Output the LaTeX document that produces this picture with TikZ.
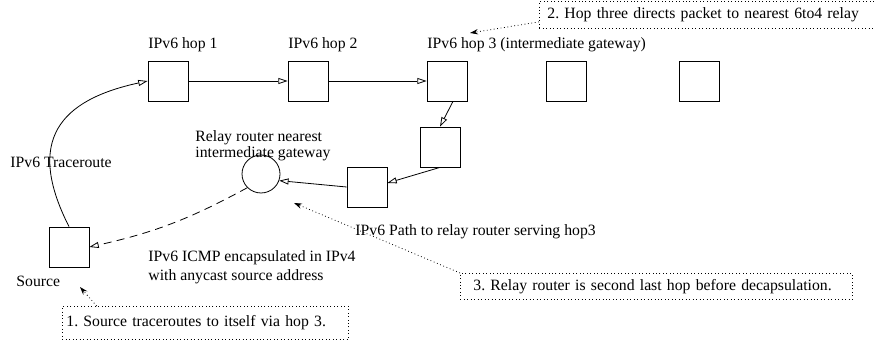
\documentclass[tikz,border=0pt]{standalone}
\usepackage{fontspec}
\setmainfont{Liberation Serif}
\usetikzlibrary{arrows.meta}
\frenchspacing
\begin{document}
\begin{tikzpicture}[x=0.75pt,y=-0.75pt,
  font=\fontsize{11.8}{13}\selectfont\frenchspacing,
  line width=0.6pt,
  hopbox/.style={draw, minimum width=30pt, minimum height=30pt, inner sep=0pt},
  relay/.style={draw, circle, minimum size=28.5pt, inner sep=0pt},
  lbl/.style={anchor=base west, inner sep=0pt},
  note/.style={draw, dotted, anchor=north west, inner ysep=0pt, align=left},
  flow/.style={-{Triangle[open,length=7pt,width=4.5pt]}},
  callout/.style={dotted, -{Stealth[length=6pt,width=4pt]}}]
\useasboundingbox (0,0) rectangle (874,341);
\clip (0,0) rectangle (874,341);

% hop boxes
\node[hopbox] (h1) at (168,81) {};
\node[hopbox] (h2) at (308,81) {};
\node[hopbox] (h3) at (447,81) {};
\node[hopbox] (h4) at (566,81) {};
\node[hopbox] (h5) at (699,81) {};
\node[hopbox] (p1) at (440,147) {};
\node[hopbox] (p2) at (367,187) {};
\node[hopbox] (src) at (69,247) {};
\node[relay] (rr) at (261,174) {};

% labels
\node[lbl] (t1) at (148,49) {IPv6 hop 1};
\node[lbl] (t2) at (288,49) {IPv6 hop 2};
\node[lbl] (t3) at (427,49) {IPv6 hop 3 (intermediate gateway)};
\node[lbl] (trl) at (10,168) {IPv6 Traceroute};
\node[lbl] (srcl) at (16,287) {Source};
\node[anchor=north west, inner sep=0pt, align=left,
      font=\fontsize{11.8}{9.75}\selectfont] (rrl) at (195,130.5)
  {Relay router nearest\\intermediate gateway};
\node[lbl] (icmp1) at (148,262) {IPv6 ICMP encapsulated in IPv4};
\node[lbl] (icmp2) at (148,280.5) {with anycast source address};
\node[lbl] (pathl) at (355,235.5) {IPv6 Path to relay router serving hop3};

% notes
\node[note, inner xsep=3pt, text width=208.5pt, minimum height=24.75pt] (n1) at (62,306) {1. Source traceroutes to itself via hop 3.};
\node[note, inner xsep=6pt, text width=243.75pt, minimum height=20.25pt] (n2) at (539,1) {2. Hop three directs packet to nearest 6to4 relay};
\node[note, inner xsep=9.75pt, text width=274.5pt, minimum height=19.5pt] (n3) at (460,273) {3. Relay router is second last hop before decapsulation.};

% connectors
\draw[flow] (src.north) .. controls (25,140) and (60,100) .. (h1.west);
\draw[flow] (h1) -- (h2);
\draw[flow] (h2) -- (h3);
\draw[flow] ([xshift=4.5pt]h3.south) -- (p1.north);
\draw[flow] (p1.south) -- ([yshift=3pt]p2.east);
\draw[flow] (p2.west) -- (rr.-20);
\draw[flow, dash pattern=on 6pt off 4pt] (rr.225) to[bend left=8] (src.east);

% callouts
\coordinate (c1) at (80,287);
\coordinate (c2) at (470,33);
\coordinate (c3) at (294,203);
\draw[callout] ([xshift=26pt]n1.north west) -- (c1);
\draw[callout] ([yshift=-5.25pt]n2.west) -- (c2);
\draw[callout] (n3.north west) -- (c3);
\end{tikzpicture}
\end{document}
